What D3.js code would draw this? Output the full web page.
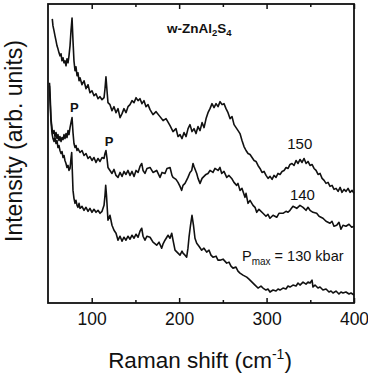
<!DOCTYPE html>
<html>
<head>
<meta charset="utf-8">
<script src="https://cdn.jsdelivr.net/npm/d3@7"></script>
<style>
  html, body { margin: 0; padding: 0; background: #fff; }
  svg { display: block; }
  text { font-family: "Liberation Sans", Arial, Helvetica, sans-serif; fill: #111; }
</style>
</head>
<body>
<svg id="chart" width="368" height="377"></svg>
<script>
// Raman spectra of w-ZnAl2S4 after pressure cycles, [shift (cm^-1), intensity (arb. units)]
const spectrum150 = [
  [54.9,285],[55.7,278],[56.9,273],[58.0,268],[59.2,263],[60.3,258],[61.4,255],[62.6,251],
  [63.7,248],[64.9,250],[66.0,243],[67.2,246],[68.3,241],[69.4,243],[70.6,238],[71.7,245],
  [72.9,241],[74.0,248],[75.2,258],[76.3,273],[77.5,286],[78.6,263],[79.7,243],[80.9,233],
  [82.0,237],[83.2,228],[84.3,231],[85.5,223],[86.6,226],[88.9,219],[91.2,223],[93.5,215],
  [95.8,219],[98.0,211],[100.3,213],[102.6,208],[104.9,210],[107.2,205],[109.5,207],[111.8,204],
  [114.1,206],[115.2,215],[116.3,227],[117.5,213],[118.6,201],[120.9,199],[123.2,193],[125.5,197],
  [127.8,191],[130.1,195],[132.4,186],[134.7,190],[136.9,195],[139.2,191],[141.5,197],[143.8,199],
  [146.1,203],[148.4,201],[150.7,206],[153.0,203],[155.2,205],[157.5,200],[159.8,203],[162.1,197],
  [164.4,199],[166.7,194],[170.1,189],[173.6,192],[178.1,187],[181.6,183],[185.0,185],[189.6,178],
  [193.0,172],[196.4,175],[198.7,167],[201.0,169],[203.3,165],[205.6,171],[207.9,167],[210.2,175],
  [212.4,179],[214.7,172],[217.0,175],[219.3,170],[221.6,177],[223.9,173],[226.2,181],[228.5,176],
  [230.8,185],[233.0,191],[235.3,195],[237.6,200],[239.9,196],[242.2,200],[244.5,197],[246.8,202],
  [249.1,199],[251.3,200],[253.6,195],[255.9,191],[258.2,185],[260.5,187],[262.8,179],[265.1,176],
  [267.4,173],[269.6,170],[271.9,163],[274.2,157],[276.5,153],[278.8,150],[281.1,149],[283.4,146],
  [285.7,143],[287.9,142],[290.2,138],[292.5,135],[294.8,131],[297.1,132],[299.4,128],[301.7,125],
  [304.0,127],[306.3,124],[308.5,128],[310.8,126],[313.1,130],[315.4,129],[317.7,132],[320.0,133],
  [322.3,136],[324.6,135],[326.8,139],[329.1,140],[331.4,138],[333.7,143],[336.0,140],[338.3,144],
  [340.6,141],[342.9,145],[345.2,140],[347.4,142],[349.7,138],[352.0,139],[354.3,135],[356.6,133],
  [358.9,129],[361.2,130],[363.5,125],[365.8,123],[368.0,120],[370.3,121],[372.6,117],[374.9,118],
  [377.2,114],[379.5,115],[381.8,112],[384.1,116],[386.3,111],[388.6,114],[390.9,112],[393.2,115],
  [395.5,111],[397.8,113],[400.0,110]
];

const spectrum140 = [
  [51.7,221],[52.3,211],[52.9,198],[53.4,185],[54.6,175],[55.7,170],[56.9,173],[58.0,167],
  [59.2,171],[60.3,165],[61.4,169],[62.6,163],[63.7,167],[64.9,162],[66.0,166],[67.2,164],
  [68.3,169],[69.4,165],[70.6,170],[71.7,166],[72.9,173],[74.0,169],[75.2,176],[76.3,181],
  [77.5,186],[78.6,171],[79.7,160],[80.9,156],[82.0,158],[83.2,153],[84.3,155],[86.6,151],
  [88.9,153],[91.2,148],[93.5,150],[95.8,145],[98.0,147],[100.3,143],[102.6,146],[104.9,141],
  [107.2,145],[109.5,142],[111.8,146],[114.1,145],[115.2,150],[116.3,153],[117.5,145],[118.6,136],
  [120.9,133],[123.2,130],[125.5,134],[127.8,128],[130.1,126],[132.4,131],[134.7,127],[136.9,132],
  [139.2,129],[141.5,133],[143.8,128],[146.1,132],[148.4,127],[150.7,133],[153.0,131],[155.2,137],
  [157.2,140],[158.7,133],[160.9,130],[163.2,135],[166.7,136],[170.1,131],[174.3,133],[178.1,126],
  [180.4,131],[183.8,130],[186.1,135],[189.6,136],[191.8,128],[193.0,126],[196.4,124],[198.7,121],
  [201.0,117],[202.9,113],[204.4,118],[206.7,120],[209.0,124],[210.1,126],[212.4,131],[214.4,133],
  [215.9,140],[217.0,137],[220.1,130],[221.6,125],[223.9,120],[226.2,125],[227.3,126],[230.7,129],
  [233.0,130],[235.3,133],[238.7,131],[241.0,135],[244.5,133],[246.7,136],[248.7,130],[251.3,132],
  [254.4,126],[257.0,128],[260.1,125],[262.7,121],[265.8,118],[267.3,120],[269.6,113],[271.9,115],
  [275.3,106],[276.5,110],[278.8,100],[281.1,103],[284.5,98],[286.8,96],[288.7,91],[291.3,94],
  [295.9,90],[299.3,87],[301.6,89],[303.9,85],[307.4,88],[311.6,86],[314.2,90],[318.8,90],
  [322.2,92],[324.5,91],[326.8,93],[330.2,97],[334.5,95],[338.2,98],[341.7,96],[345.1,93],
  [347.4,96],[349.7,93],[353.1,91],[357.3,90],[360.0,87],[364.5,85],[368.0,82],[372.5,80],
  [374.8,82],[377.1,77],[380.2,78],[382.8,81],[385.1,74],[387.4,78],[390.8,77],[394.3,79],
  [397.4,76],[400.0,77]
];

const spectrum130 = [
  [51.7,218],[52.3,203],[53.4,183],[54.6,170],[55.7,165],[56.9,162],[58.0,166],[59.2,160],
  [60.3,163],[61.4,156],[62.6,158],[63.7,153],[64.9,150],[66.0,152],[67.2,146],[68.3,148],
  [69.4,143],[70.6,140],[71.7,136],[72.9,138],[74.0,133],[75.2,135],[76.3,145],[77.1,151],
  [78.0,128],[78.6,113],[79.7,105],[80.9,100],[82.0,103],[83.2,98],[84.3,96],[85.5,100],
  [86.6,95],[88.9,97],[91.2,93],[93.5,96],[95.8,92],[98.0,95],[100.3,91],[102.6,94],
  [104.9,91],[107.2,93],[109.5,90],[111.8,92],[114.1,98],[115.2,108],[116.0,118],[116.9,108],
  [118.6,83],[120.9,88],[123.2,78],[125.5,73],[127.8,70],[130.1,63],[132.4,67],[134.7,62],
  [136.9,66],[139.2,63],[141.5,67],[143.8,64],[146.1,68],[148.4,65],[150.7,69],[153.0,66],
  [155.2,72],[157.2,75],[158.7,67],[160.9,63],[163.2,67],[166.7,66],[170.1,61],[174.3,58],
  [177.0,61],[180.0,55],[181.5,59],[183.8,63],[187.3,68],[189.5,65],[191.5,70],[193.0,63],
  [195.3,53],[198.7,50],[201.0,48],[203.3,52],[204.4,50],[206.7,48],[208.6,46],[210.1,55],
  [211.3,66],[213.0,78],[214.7,88],[216.4,78],[218.1,65],[220.1,60],[222.7,57],[225.8,53],
  [228.4,55],[231.5,51],[234.2,53],[236.4,48],[238.7,46],[242.2,47],[244.4,43],[246.7,43],
  [250.2,44],[254.4,40],[257.0,41],[259.3,37],[261.6,35],[265.0,36],[267.3,32],[269.6,30],
  [273.0,28],[277.3,26],[279.9,24],[282.2,22],[284.5,20],[286.8,18],[290.2,15],[293.6,17],
  [295.9,15],[299.3,13],[301.6,14],[303.9,11],[307.4,13],[310.8,12],[313.1,14],[315.4,13],
  [318.8,15],[322.2,14],[324.5,17],[326.8,16],[330.2,18],[333.7,17],[336.0,20],[338.2,18],
  [341.7,21],[345.1,19],[347.4,21],[349.7,20],[352.0,23],[353.1,16],[355.4,18],[358.8,15],
  [361.1,16],[364.5,13],[368.0,14],[371.4,11],[373.7,12],[376.0,10],[379.4,12],[382.8,9],
  [385.1,11],[387.4,10],[390.8,11],[394.3,9],[396.6,10],[400.0,8]
];

const majorTicks = [100, 200, 300, 400];
const minorTicks = [150, 250, 350];

const curveLabels = [
  { text: "150", shift: 338, level: 154.5 },
  { text: "140", shift: 341, level: 103 }
];
const peakMarks = [
  { text: "P", shift: 80.1, level: 191.5 },
  { text: "P", shift: 119.8, level: 158 }
];

const svg = d3.select("#chart");
const margin = { left: 48, right: 14, top: 4, bottom: 74 };
const W = 368, H = 377;

const x = d3.scaleLinear().domain([50, 400]).range([margin.left, W - margin.right]);
const y = d3.scaleLinear().domain([0, 300]).range([H - margin.bottom, margin.top]);

svg.append("rect").attr("width", W).attr("height", H).attr("fill", "#fff");

const line = d3.line().x(d => x(d[0])).y(d => y(d[1]));

const traces = svg.append("g").attr("fill", "none").attr("stroke", "#111")
  .attr("stroke-width", 1.6).attr("stroke-linejoin", "round");
[spectrum150, spectrum140, spectrum130].forEach(s => {
  traces.append("path").datum(s).attr("d", line);
});

// frame
svg.append("rect")
  .attr("x", x(50)).attr("y", y(300))
  .attr("width", x(400) - x(50)).attr("height", y(0) - y(300))
  .attr("fill", "none").attr("stroke", "#111").attr("stroke-width", 1.8);

// inward ticks on bottom and top
const axB = svg.append("g").attr("transform", `translate(0,${y(0)})`)
  .call(d3.axisBottom(x).tickValues(majorTicks).tickSize(-5).tickPadding(10).tickFormat(d3.format("d")));
const axBm = svg.append("g").attr("transform", `translate(0,${y(0)})`)
  .call(d3.axisBottom(x).tickValues(minorTicks).tickSize(-3).tickFormat(""));
const axT = svg.append("g").attr("transform", `translate(0,${y(300)})`)
  .call(d3.axisTop(x).tickValues(majorTicks).tickSize(-5).tickFormat(""));
const axTm = svg.append("g").attr("transform", `translate(0,${y(300)})`)
  .call(d3.axisTop(x).tickValues(minorTicks).tickSize(-3).tickFormat(""));
[axB, axBm, axT, axTm].forEach(g => {
  g.select(".domain").remove();
  g.selectAll(".tick line").attr("stroke", "#111").attr("stroke-width", 1.5);
});
axB.selectAll(".tick text")
  .attr("font-family", "Liberation Sans, Arial, sans-serif")
  .attr("font-size", 17.5).attr("fill", "#111");

// axis titles
const xt = svg.append("text").attr("x", 200).attr("y", 368)
  .attr("text-anchor", "middle").attr("font-size", 22.5);
xt.append("tspan").text("Raman shift (cm");
xt.append("tspan").attr("font-size", 14).attr("dy", -9).text("-1");
xt.append("tspan").attr("dy", 9).text(")");

svg.append("text")
  .attr("transform", "translate(22,141) rotate(-90)")
  .attr("text-anchor", "middle").attr("font-size", 23)
  .text("Intensity (arb. units)");

// compound name
const ttl = svg.append("text").attr("x", 167).attr("y", 33).attr("font-size", 13.5).attr("font-weight", "bold");
ttl.append("tspan").text("w-ZnAl");
ttl.append("tspan").attr("font-size", 9.5).attr("dy", 3).text("2");
ttl.append("tspan").attr("dy", -3).text("S");
ttl.append("tspan").attr("font-size", 9.5).attr("dy", 3).text("4");

// pressure labels on the curves
curveLabels.forEach(c => {
  svg.append("text").attr("x", x(c.shift)).attr("y", y(c.level))
    .attr("text-anchor", "middle").attr("font-size", 15).text(c.text);
});

const pm = svg.append("text").attr("x", 242).attr("y", 261).attr("font-size", 14.5);
pm.append("tspan").text("P");
pm.append("tspan").attr("font-size", 10).attr("dy", 4).text("max");
pm.append("tspan").attr("dy", -4).text(" = 130 kbar");

// pressure-medium peaks
peakMarks.forEach(p => {
  svg.append("text").attr("x", x(p.shift)).attr("y", y(p.level))
    .attr("text-anchor", "middle").attr("font-size", 13).attr("font-weight", "bold").text(p.text);
});
</script>
</body>
</html>
